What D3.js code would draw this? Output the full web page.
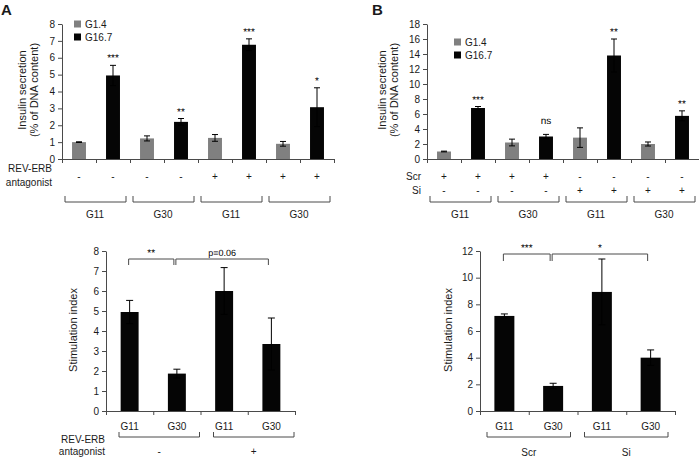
<!DOCTYPE html>
<html><head><meta charset="utf-8">
<script src="https://cdn.jsdelivr.net/npm/d3@7"></script>
<style>
body{margin:0;background:#fff}
svg{display:block;font-family:"Liberation Sans",Arial,sans-serif}
.sig{font-family:"Liberation Sans",Arial,sans-serif;-webkit-font-smoothing:antialiased;text-rendering:geometricPrecision}
</style>
</head><body><svg id="c" width="699" height="457"></svg>
<script>
// ---------- data ----------
const groups = ["G11","G30","G11","G30"];
const legendLabels = ["G1.4","G16.7"];

const aG14 = [1.0, 1.22, 1.25, 0.9];
const aG14Err = [0.02, 0.15, 0.2, 0.14];
const aG167 = [4.95, 2.2, 6.77, 3.07];
const aG167Err = [0.6, 0.2, 0.35, 1.15];
const aSig = ["***","**","***","*"];
const aAntag = ["-","-","-","-","+","+","+","+"];
const aTicks = [0,1,2,3,4,5,6,7,8];

const bG14 = [1.0, 2.2, 2.85, 2.0];
const bG14Err = [0.05, 0.45, 1.3, 0.27];
const bG167 = [6.8, 3.0, 13.8, 5.75];
const bG167Err = [0.2, 0.28, 2.2, 0.67];
const bSig = ["***","ns","**","**"];
const bScr = ["+","+","+","+","-","-","-","-"];
const bSi  = ["-","-","-","-","+","+","+","+"];
const bTicks = [0,2,4,6,8,10,12,14,16,18];

const siCats = ["G11","G30","G11","G30"];
const aSI = [4.95, 1.87, 6.0, 3.35];
const aSIErr = [0.58, 0.22, 1.17, 1.3];
const aSITicks = [0,1,2,3,4,5,6,7,8];
const aSIGroups = ["-","+"];
const aSIComp = [[0,1,"**"],[1,3,"p=0.06"]];

const bSI = [7.13, 1.88, 8.93, 4.0];
const bSIErr = [0.15, 0.2, 2.47, 0.58];
const bSITicks = [0,2,4,6,8,10,12];
const bSIGroups = ["Scr","Si"];
const bSIComp = [[0,1,"***"],[1,3,"*"]];

// ---------- helpers ----------
const svg = d3.select("#c");
const GREY = "#808080", BLACK = "#050505", AX = "#4a4a4a", TXT = "#1a1a1a";

function styleAxis(g){
  g.attr("font-family",null).attr("font-size",null);
  g.selectAll("path.domain").attr("stroke",AX);
  g.selectAll(".tick line").attr("stroke",AX);
  g.selectAll(".tick text").attr("fill",TXT).style("font-size","10px");
}
function yAxis(x0, y, ticks){
  const g = svg.append("g").attr("transform",`translate(${x0},0)`)
    .call(d3.axisLeft(y).tickValues(ticks).tickSize(4).tickSizeOuter(0).tickPadding(3));
  styleAxis(g);
}
function xAxis(x0, x1, yPix, n){
  const xl = d3.scaleLinear().domain([0,n]).range([x0,x1]);
  const g = svg.append("g").attr("transform",`translate(0,${yPix})`)
    .call(d3.axisBottom(xl).tickValues(d3.range(n+1)).tickSize(4).tickSizeOuter(0).tickFormat(""));
  styleAxis(g);
}
function text(x,y,s,opt={}){
  const t = svg.append("text").attr("x",x).attr("y",y).text(s)
    .attr("fill",opt.fill||TXT).style("font-size",(opt.size||10)+"px")
    .attr("text-anchor",opt.anchor||"middle")
    .attr("dominant-baseline",opt.base||"central");
  if(opt.rot) t.attr("transform",`rotate(-90,${x},${y})`);
  if(opt.weight) t.style("font-weight",opt.weight);
  if(opt.cls) t.attr("class",opt.cls);
  return t;
}
function errBar(cx, y, v, e, cap){
  const g = svg.append("g").attr("stroke","#000").attr("stroke-width",1);
  g.append("line").attr("x1",cx).attr("x2",cx).attr("y1",y(v-e)).attr("y2",y(v+e));
  [v-e, v+e].forEach(t=>g.append("line").attr("x1",cx-cap).attr("x2",cx+cap).attr("y1",y(t)).attr("y2",y(t)));
}
function bracketDown(x1,x2,yTop,drop){
  svg.append("path").attr("d",`M${x1},${yTop+drop}V${yTop}H${x2}V${yTop+drop}`)
    .attr("fill","none").attr("stroke",AX).attr("stroke-width",1);
}
function bracketUp(x1,x2,yTop,yBot){
  svg.append("path").attr("d",`M${x1},${yTop}V${yBot}H${x2}V${yTop}`)
    .attr("fill","none").attr("stroke",AX).attr("stroke-width",1);
}

// ---------- top grouped chart ----------
function topChart(c){
  const y = d3.scaleLinear().domain([0,c.yMax]).range([c.y0, c.yTop]);
  const n = c.g14.length*2;
  const p = 0.59;
  const x = d3.scaleBand().domain(d3.range(n)).range([c.x0,c.x1]).paddingInner(p).paddingOuter(p/2);
  const bars = [];
  c.g14.forEach((v,i)=>{
    bars.push({i:2*i, v, e:c.g14e[i], col:GREY, sig:null});
    bars.push({i:2*i+1, v:c.g167[i], e:c.g167e[i], col:BLACK, sig:c.sig[i]});
  });
  svg.append("g").selectAll("rect").data(bars).join("rect")
    .attr("x",d=>x(d.i)).attr("width",x.bandwidth())
    .attr("y",d=>y(d.v)).attr("height",d=>y(0)-y(d.v)).attr("fill",d=>d.col);
  bars.forEach(d=>{
    const cx = x(d.i)+x.bandwidth()/2;
    errBar(cx,y,d.v,d.e,3);
    if(d.sig){
      const off = d.sig.includes("*") ? 4 : 10;
      text(cx, y(d.v+d.e)-off, d.sig, {size:10, base:"alphabetic", fill:"#000", cls:"sig"});
    }
  });
  yAxis(c.x0, y, c.ticks);
  xAxis(c.x0, c.x1, c.y0, n);
  // legend
  [[GREY,legendLabels[0]],[BLACK,legendLabels[1]]].forEach((l,k)=>{
    const ly = c.legY + k*13;
    svg.append("rect").attr("x",c.legX).attr("y",ly-3.5).attr("width",7).attr("height",7).attr("fill",l[0]);
    text(c.legX+11, ly, l[1], {anchor:"start", size:10});
  });
  // y title
  text(c.titleX1, c.titleY, "Insulin secretion", {rot:true, size:11});
  text(c.titleX2, c.titleY, "(% of DNA content)", {rot:true, size:11});
  // sign rows
  c.rows.forEach(r=>{
    r.vals.forEach((s,i)=>text(x(i)+x.bandwidth()/2, r.y, s, {size:10}));
  });
  c.rowLabels.forEach(r=>text(c.rowLabelX, r.y, r.t, {anchor:"end", size:10}));
  // group brackets
  const step = x.step();
  groups.forEach((gname,gi)=>{
    const gs = c.x0 + gi*2*step, ge = gs + 2*step;
    bracketUp(gs+3, ge-4, 196, 202);
    text((gs+ge)/2 - 1, 214, gname, {size:10});
  });
}

topChart({x0:62, x1:334, y0:159, yTop:24, yMax:8, ticks:aTicks,
  g14:aG14, g14e:aG14Err, g167:aG167, g167e:aG167Err, sig:aSig,
  legX:74, legY:24, titleX1:22, titleX2:34, titleY:90,
  rows:[{vals:aAntag, y:176}],
  rowLabels:[{t:"REV-ERB", y:168},{t:"antagonist", y:182}], rowLabelX:52});

topChart({x0:427, x1:699, y0:159, yTop:24, yMax:18, ticks:bTicks,
  g14:bG14, g14e:bG14Err, g167:bG167, g167e:bG167Err, sig:bSig,
  legX:454, legY:42, titleX1:382, titleX2:394, titleY:90,
  rows:[{vals:bScr, y:176},{vals:bSi, y:190}],
  rowLabels:[{t:"Scr", y:176},{t:"Si", y:190}], rowLabelX:421});

// ---------- bottom stimulation index charts ----------
function siChart(c){
  const y = d3.scaleLinear().domain([0,c.yMax]).range([411,251]);
  const n = c.vals.length;
  const p = c.pad;
  const x = d3.scaleBand().domain(d3.range(n)).range([c.x0,c.x1]).paddingInner(p).paddingOuter(p/2);
  const cx = i => x(i)+x.bandwidth()/2;
  svg.append("g").selectAll("rect").data(c.vals).join("rect")
    .attr("x",(d,i)=>x(i)).attr("width",x.bandwidth())
    .attr("y",d=>y(d)).attr("height",d=>y(0)-y(d)).attr("fill",BLACK);
  c.vals.forEach((v,i)=>errBar(cx(i),y,v,c.errs[i],3.5));
  yAxis(c.x0, y, c.ticks);
  xAxis(c.x0, c.x1, 411, n);
  c.cats.forEach((s,i)=>text(cx(i), 426, s, {size:10}));
  // group brackets
  const gw = (c.x1-c.x0)/c.groups.length;
  c.groups.forEach((gname,gi)=>{
    const mid = c.x0 + gw*(gi+0.5) + c.gOff;
    bracketUp(mid-gw/2+7, mid+gw/2-7, 432, 437);
    text(mid, c.gLabY, gname, {size:10});
  });
  c.rowLabels.forEach(r=>text(c.x0-1, r.y, r.t, {anchor:"end", size:10}));
  // significance brackets
  c.comp.forEach(([a,b,lab])=>{
    const x1 = cx(a)-1, x2 = cx(b)-3;
    bracketDown(x1, x2, c.sigY, c.drop);
    text((x1+x2)/2, c.sigY-3, lab, {size: lab.includes("*")?10:9, base:"alphabetic", fill:"#000", cls:"sig"});
  });
  text(c.titleX, 330, "Stimulation index", {rot:true, size:11});
}

siChart({x0:106, x1:295, yMax:8, ticks:aSITicks, vals:aSI, errs:aSIErr, pad:0.62,
  cats:siCats, groups:aSIGroups, gOff:6, gLabY:451,
  rowLabels:[{t:"REV-ERB", y:439},{t:"antagonist", y:451}],
  comp:aSIComp, sigY:259, drop:6, titleX:73});

siChart({x0:480, x1:675, yMax:12, ticks:bSITicks, vals:bSI, errs:bSIErr, pad:0.59,
  cats:siCats, groups:bSIGroups, gOff:0, gLabY:452,
  rowLabels:[],
  comp:bSIComp, sigY:254, drop:7, titleX:448});

// panel letters
text(1, 9, "A", {anchor:"start", size:15, weight:"bold"});
text(372, 9, "B", {anchor:"start", size:15, weight:"bold"});
</script>
</body></html>
